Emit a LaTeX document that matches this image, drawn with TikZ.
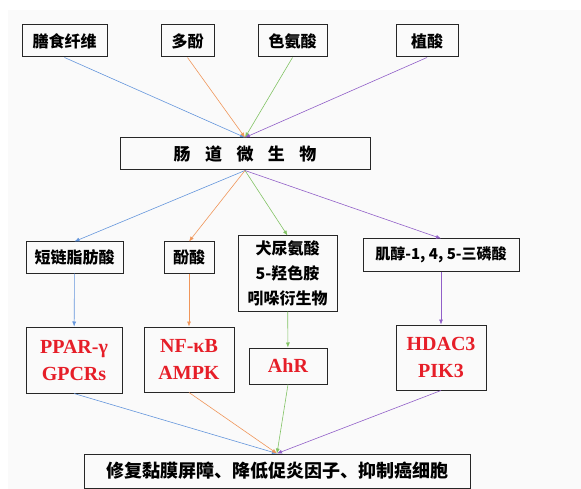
\documentclass[tikz,border=0pt]{standalone}
\usepackage{fontspec}
\setmainfont{Liberation Serif}
\newfontfamily\cjk{Noto Sans CJK SC}
\usetikzlibrary{arrows.meta}
\definecolor{lblue}{RGB}{100,150,220}
\definecolor{lorange}{RGB}{240,150,90}
\definecolor{lgreen}{RGB}{130,195,100}
\definecolor{lpurple}{RGB}{145,95,200}
\definecolor{gred}{RGB}{230,30,40}
\begin{document}
\begin{tikzpicture}[x=1pt,y=-1pt,
  box/.style={draw=black!85,line width=1pt,inner sep=0pt,align=center,
    font=\cjk\bfseries\fontsize{16}{25}\selectfont},
  gene/.style={box,text=gred,font=\bfseries\fontsize{20}{27}\selectfont},
  link/.style={line width=.6pt,-{Latex[length=5pt,width=4pt]}}]
\useasboundingbox (0,0) rectangle (581,489);
\fill[black!2] (8,10) rectangle (581,489);
% sources
\node[box,minimum width=85,minimum height=32] (fiber) at (64.5,41) {膳食纤维};
\node[box,minimum width=53,minimum height=32] (poly) at (187.5,41) {多酚};
\node[box,minimum width=69,minimum height=32] (trp) at (292.5,41) {色氨酸};
\node[box,minimum width=62,minimum height=32] (phy) at (427,41) {植酸};
\node[box,minimum width=250,minimum height=32,font=\cjk\bfseries\fontsize{17}{20}\selectfont] (gut) at (245,154)
  {肠\hspace{.85em}道\hspace{.85em}微\hspace{.85em}生\hspace{.85em}物};
% metabolites
\node[box,minimum width=97,minimum height=31] (scfa) at (74.5,257.5) {短链脂肪酸};
\node[box,minimum width=50,minimum height=31] (pa) at (189,257.5) {酚酸};
\node[box,minimum width=99,minimum height=75] (ind) at (287.5,273.5) {犬尿氨酸\\5-羟色胺\\吲哚衍生物};
\node[box,minimum width=156,minimum height=32,font=\cjk\bfseries\fontsize{15}{18}\selectfont] (ip3) at (441,255) {肌醇-1, 4, 5-三磷酸};
% targets
\node[gene,minimum width=96,minimum height=66] (ppar) at (74,360) {PPAR-γ\\GPCRs};
\node[gene,minimum width=90,minimum height=65] (nfkb) at (189,359.5) {NF-κB\\AMPK};
\node[gene,minimum width=78,minimum height=36] (ahr) at (288,366) {AhR};
\node[gene,minimum width=90,minimum height=65] (hdac) at (441,357.5) {HDAC3\\PIK3};
\node[box,minimum width=386,minimum height=34,font=\cjk\bfseries\fontsize{18}{20}\selectfont] (out) at (277,471)
  {修复黏膜屏障、降低促炎因子、抑制癌细胞};
% links
\draw[link,lblue] (fiber.south) -- (gut.north);
\draw[link,lorange] (poly.south) -- (gut.north);
\draw[link,lgreen] (trp.south) -- (gut.north);
\draw[link,lpurple] (phy.south) -- (gut.north);
\draw[link,lblue] (gut.south) -- (scfa.north);
\draw[link,lorange] (gut.south) -- (pa.north);
\draw[link,lgreen] (gut.south) -- (ind.north);
\draw[link,lpurple] (gut.south) -- (ip3.north);
\draw[link,lblue] (scfa) -- (ppar);
\draw[link,lorange] (pa) -- (nfkb);
\draw[link,lgreen] (ind) -- (ahr);
\draw[link,lpurple] (ip3) -- (hdac);
\draw[link,lblue] (ppar.south) -- (out.north);
\draw[link,lorange] (nfkb.south) -- (out.north);
\draw[link,lgreen] (ahr.south) -- (out.north);
\draw[link,lpurple] (hdac.south) -- (out.north);
\end{tikzpicture}
\end{document}
